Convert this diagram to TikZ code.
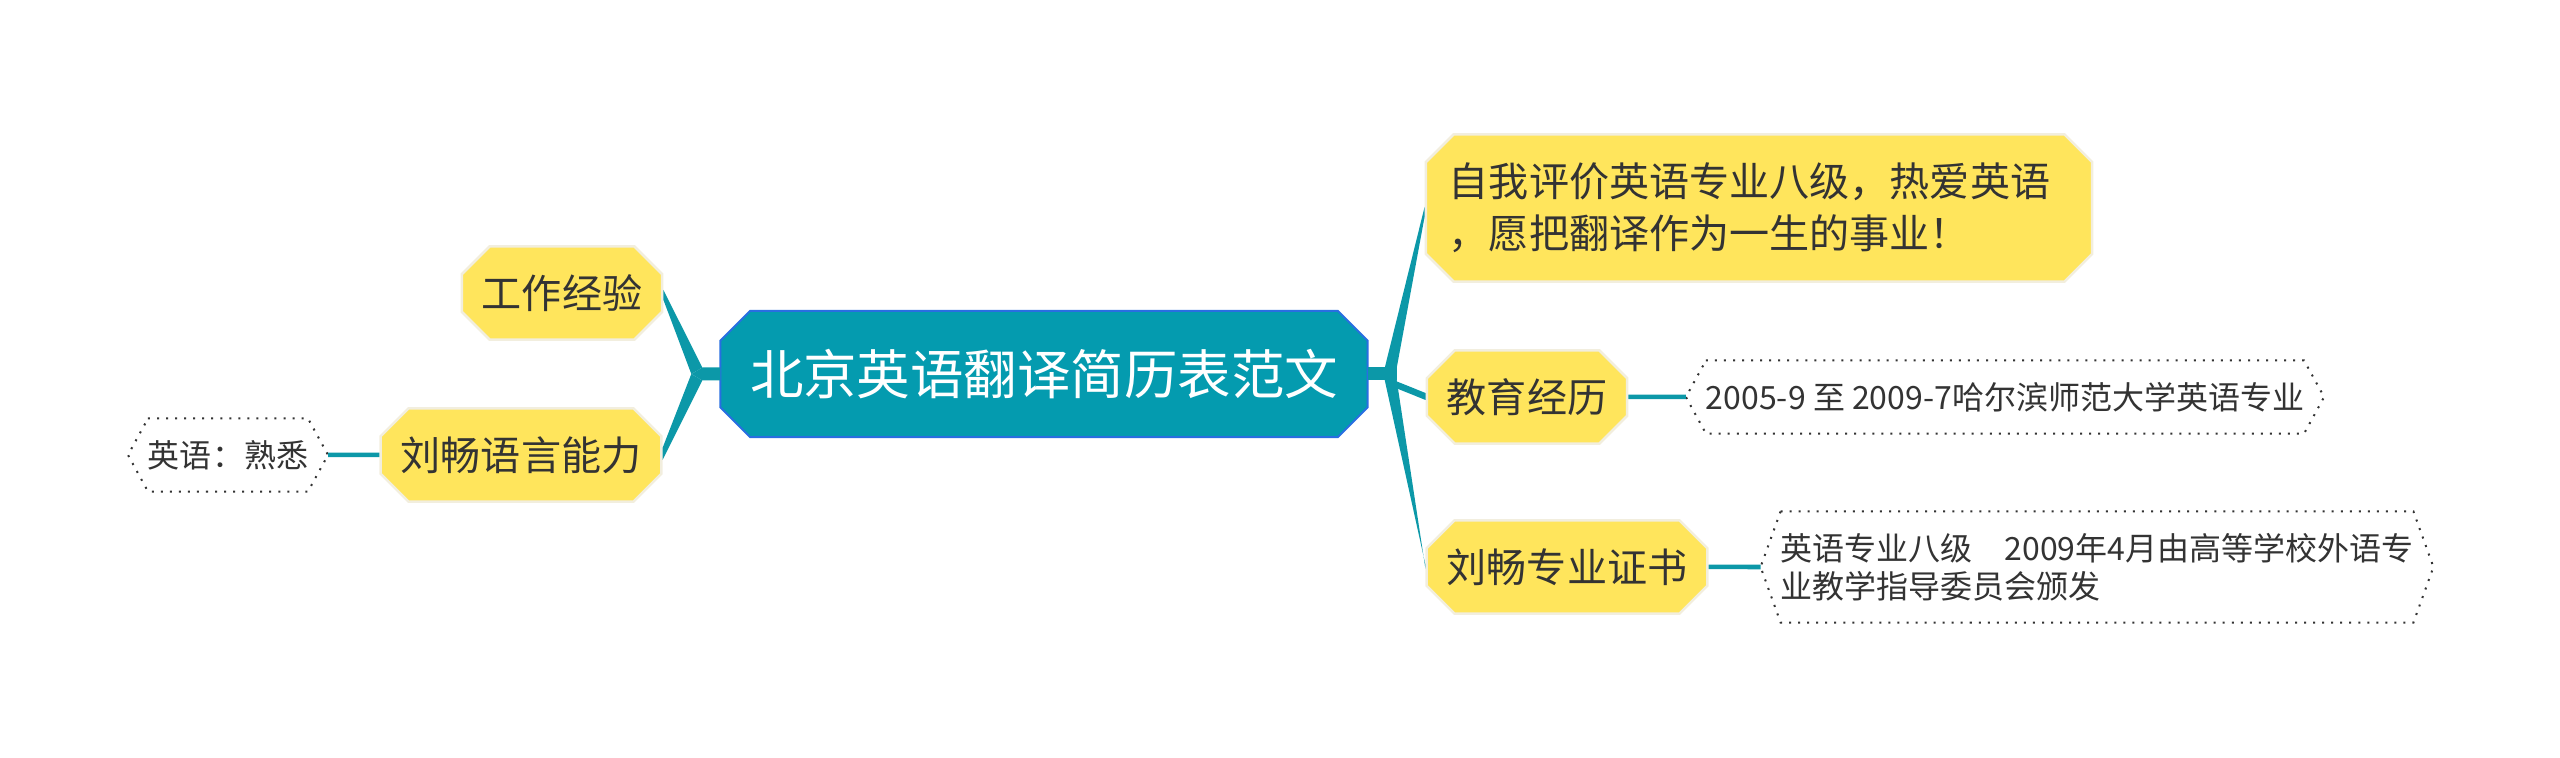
\documentclass[tikz,border=0pt]{standalone}
\usepackage{fontspec}
\setmainfont{Noto Sans CJK SC}
\usetikzlibrary{positioning, shapes.misc, calc}
\definecolor{rootteal}{RGB}{4,155,175}
\definecolor{rootblue}{RGB}{40,110,225}
\definecolor{branchteal}{RGB}{12,152,168}
\definecolor{topicyellow}{RGB}{255,229,92}
\definecolor{topicedge}{RGB}{242,238,222}
\definecolor{darktext}{RGB}{51,51,51}

% dotted hexagon round a detail node (its west/east anchors are the tips)
\newcommand{\hexframe}[1]{%
  \draw[detailedge] ($(#1.north west)+(20,0)$) -- ($(#1.north east)+(-20,0)$) -- (#1.east)
    -- ($(#1.south east)+(-20,0)$) -- ($(#1.south west)+(20,0)$) -- (#1.west) -- cycle;}

\begin{document}
\begin{tikzpicture}[x=0.01cm, y=0.01cm,
  root/.style={chamfered rectangle, chamfered rectangle xsep=0.17cm, draw=rootblue, line width=0.02cm,
    fill=rootteal, text=white, minimum width=6.47cm, minimum height=1.26cm, inner sep=0pt,
    font=\fontsize{15.2}{18}\selectfont},
  topic/.style={chamfered rectangle, chamfered rectangle xsep=0.15cm, draw=topicedge, line width=0.025cm,
    fill=topicyellow, text=darktext, minimum height=0.93cm, inner xsep=0.05cm, inner ysep=0pt,
    font=\fontsize{11.4}{14.8}\selectfont},
  detail/.style={rectangle, inner xsep=0pt, inner ysep=0pt, outer xsep=0.2cm, outer ysep=0pt,
    minimum height=0.73cm, text=darktext, align=left, font=\fontsize{9.1}{10.8}\selectfont},
  detailedge/.style={draw=darktext, dotted, line width=0.02cm},
  leaf/.style={draw=branchteal, line width=0.045cm},
  branch/.style={fill=branchteal}
]
  \useasboundingbox (0,0) rectangle (2560,-758);

  \node[root] (root) at (1044,-374) {北京英语翻译简历表范文};

  % left side
  \node[topic] (work) at (562,-293) {工作经验};
  \node[topic] (lang) at (521,-455) {刘畅语言能力};
  \node[detail] (langd) at (228,-455) {英语：熟悉};

  % right side
  \node[topic, text width=6.2cm, inner xsep=0.08cm, align=left, minimum height=1.47cm] (self) at (1759,-208)
    {自我评价英语专业八级，热爱英语\\，愿把翻译作为一生的事业！};
  \node[topic] (edu) at (1527,-397) {教育经历};
  \node[detail] (edud) at (2005,-397) {2005-9 至 2009-7哈尔滨师范大学英语专业};
  \node[topic] (cert) at (1567,-567) {刘畅专业证书};
  \node[detail, minimum height=1.11cm] (certd) at (2097,-567)
    {英语专业八级　2009年4月由高等学校外语专\\业教学指导委员会颁发};

  \hexframe{langd}
  \hexframe{edud}
  \hexframe{certd}

  % tapered branches out of the root
  \coordinate (lj) at ($(root.west)+(-17,0)$);
  \coordinate (rj) at ($(root.east)+(16,0)$);
  \fill[branch] ($(lj)+(-11,0)$) -- ($(lj)+(0,6.5)$) -- ($(root.west)+(1,6.5)$)
    -- ($(root.west)+(1,-6.5)$) -- ($(lj)+(0,-6.5)$) -- cycle;
  \fill[branch] ($(root.east)+(-1,6.5)$) rectangle ($(rj)+(12,-6.5)$);
  \fill[branch] ($(lj)+(0,6.5)$) -- ($(work.east)+(0,3)$) -- ($(work.east)+(0,-7)$) -- ($(lj)+(-11,0)$) -- cycle;
  \fill[branch] ($(lj)+(0,-6.5)$) -- ($(lang.east)+(0,-5)$) -- ($(lang.east)+(0,7)$) -- ($(lj)+(-11,0)$) -- cycle;
  \fill[branch] ($(rj)+(0,6)$) -- ($(self.west)+(0,1)$) -- ($(self.west)+(0,-9)$) -- ($(rj)+(12,6)$) -- cycle;
  \fill[branch] ($(rj)+(11,-7)$) -- ($(edu.west)+(0,4)$) -- ($(edu.west)+(0,-3)$) -- ($(rj)+(11,-14)$) -- cycle;
  \fill[branch] ($(rj)+(0,-6)$) -- ($(cert.west)+(0,2)$) -- ($(cert.west)+(0,-2)$) -- ($(rj)+(12,-6)$) -- cycle;

  \draw[leaf] (langd) -- (lang);
  \draw[leaf] (edu) -- (edud);
  \draw[leaf] (cert) -- (certd);
\end{tikzpicture}
\end{document}
